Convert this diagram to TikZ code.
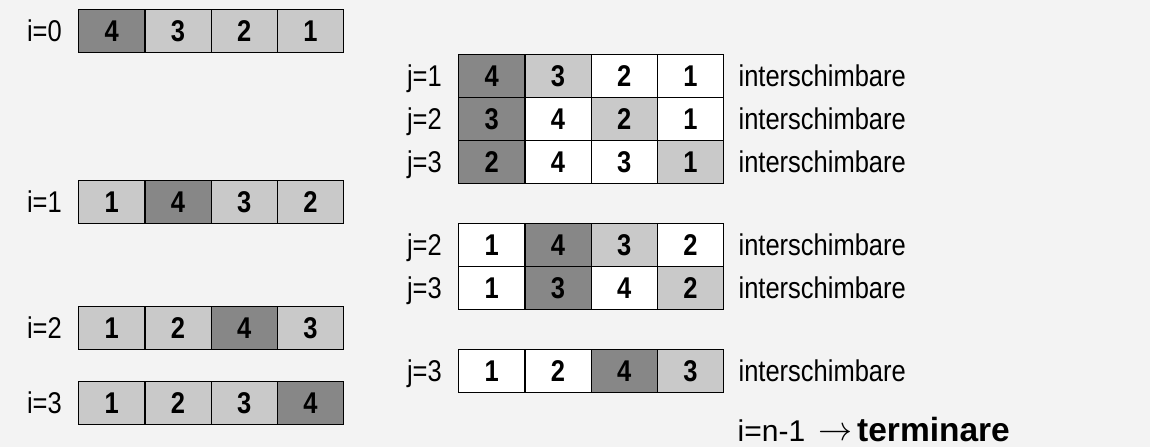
\RequirePackage{fix-cm}
\documentclass[tikz,border=0pt]{standalone}
\usepackage{fontspec}
\setmainfont{Liberation Sans}[FakeStretch=0.85]
\newfontfamily\widefont{Liberation Sans}
\definecolor{bg}{HTML}{F3F3F3}
\definecolor{darkc}{HTML}{878787}
\definecolor{lightc}{HTML}{C9C9C9}
\newcommand\arow[4]{%
  \foreach \v/\s [count=\k from 0] in {#4} {
    \node[cell,\s] (#1c\k) at ({#2+66.25*\k},#3) {\v};
  }}
\begin{document}
\begin{tikzpicture}[x=1pt,y=-1pt,
  cell/.style={draw=black, line width=1.4pt, minimum width=66.25pt, minimum height=43pt,
    inner sep=0pt, anchor=north west, font=\fontsize{30}{34}\selectfont\bfseries},
  dk/.style={fill=darkc}, lt/.style={fill=lightc}, wh/.style={fill=white},
  lbl/.style={font=\fontsize{30}{34}\selectfont, inner sep=0pt, text height=21.5pt, text depth=0pt},
]
\fill[bg] (0,0) rectangle (1150,447);
\useasboundingbox (0,0) rectangle (1150,447);

\arow{ia}{78}{9}{4/dk,3/lt,2/lt,1/lt}
\arow{ib}{78}{180}{1/lt,4/dk,3/lt,2/lt}
\arow{ic}{78}{306}{1/lt,2/lt,4/dk,3/lt}
\arow{id}{78}{381}{1/lt,2/lt,3/lt,4/dk}

\arow{ga}{458}{54}{4/dk,3/lt,2/wh,1/wh}
\arow{gb}{458}{97}{3/dk,4/wh,2/lt,1/wh}
\arow{gc}{458}{140}{2/dk,4/wh,3/wh,1/lt}
\arow{ha}{458}{223}{1/wh,4/dk,3/lt,2/wh}
\arow{hb}{458}{266}{1/wh,3/dk,4/wh,2/lt}
\arow{ka}{458}{349}{1/wh,2/wh,4/dk,3/lt}

\node[lbl,anchor=east] (l0) at ([xshift=-16pt]iac0.west) {i=0};
\node[lbl,anchor=east] (l1) at ([xshift=-16pt]ibc0.west) {i=1};
\node[lbl,anchor=east] (l2) at ([xshift=-16pt]icc0.west) {i=2};
\node[lbl,anchor=east] (l3) at ([xshift=-16pt]idc0.west) {i=3};

\node[lbl,anchor=east] (m1) at ([xshift=-16pt]gac0.west) {j=1};
\node[lbl,anchor=east] (m2) at ([xshift=-16pt]gbc0.west) {j=2};
\node[lbl,anchor=east] (m3) at ([xshift=-16pt]gcc0.west) {j=3};
\node[lbl,anchor=east] (m4) at ([xshift=-16pt]hac0.west) {j=2};
\node[lbl,anchor=east] (m5) at ([xshift=-16pt]hbc0.west) {j=3};
\node[lbl,anchor=east] (m6) at ([xshift=-16pt]kac0.west) {j=3};

\node[lbl,anchor=west] (x1) at ([xshift=14pt]gac3.east) {interschimbare};
\node[lbl,anchor=west] (x2) at ([xshift=14pt]gbc3.east) {interschimbare};
\node[lbl,anchor=west] (x3) at ([xshift=14pt]gcc3.east) {interschimbare};
\node[lbl,anchor=west] (x4) at ([xshift=14pt]hac3.east) {interschimbare};
\node[lbl,anchor=west] (x5) at ([xshift=14pt]hbc3.east) {interschimbare};
\node[lbl,anchor=west] (x6) at ([xshift=14pt]kac3.east) {interschimbare};

\node[lbl,anchor=base west,font=\fontsize{30}{34}\selectfont\widefont] (f1) at (737.5,441) {i=n-1};
\node[inner sep=0pt,anchor=base west,font=\fontsize{34}{36}\selectfont] (fa) at (818,440) {$\rightarrow$};
\node[inner sep=0pt,anchor=base west,font=\fontsize{33.5}{36}\selectfont\widefont\bfseries] (f2) at (857,441) {terminare};
\end{tikzpicture}
\end{document}
